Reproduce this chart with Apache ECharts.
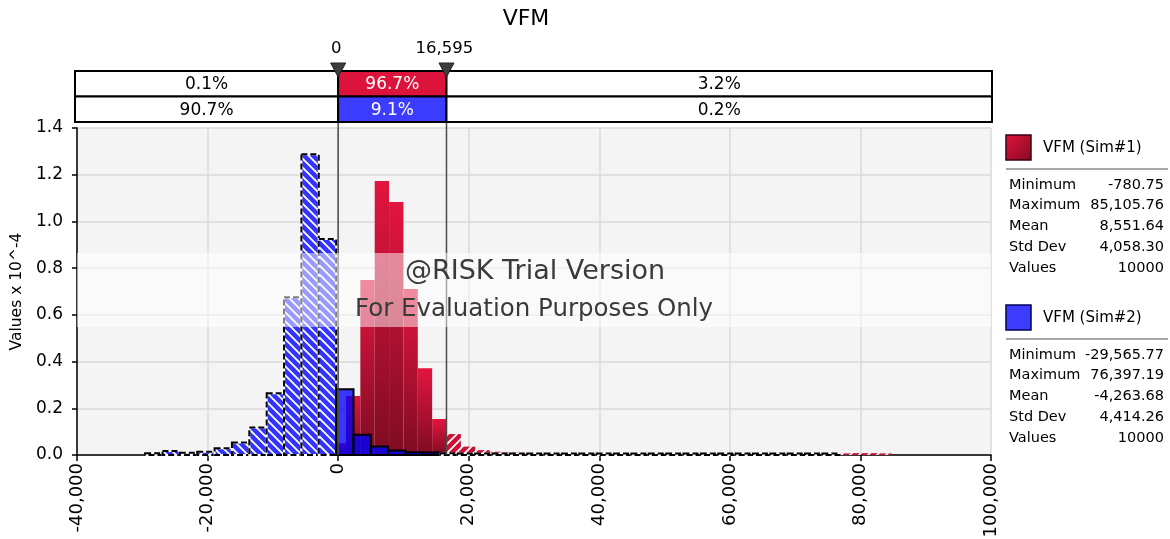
<!DOCTYPE html>
<html><head><meta charset="utf-8">
<script src="https://cdn.jsdelivr.net/npm/echarts@6/dist/echarts.min.js"></script>
<style>html,body{margin:0;padding:0;background:#fff}#c{width:1170px;height:539px}</style>
</head><body><div id="c"></div>
<script>
// ---------- data ----------
const chartTitle = 'VFM';
const delimiters = [0, 16595];
const delimiterLabels = ['0', '16,595'];
const pctSim1 = ['0.1%', '96.7%', '3.2%'];
const pctSim2 = ['90.7%', '9.1%', '0.2%'];
const xMin = -40000, xMax = 100000, xStep = 20000;
const yMin = 0, yMax = 1.4, yStep = 0.2;
const yAxisName = 'Values x 10^-4';

const redBinStart = -1000, redBinWidth = 2200;
const redDensity = [0.05, 0.253, 0.749, 1.173, 1.083, 0.711, 0.371, 0.154, 0.090, 0.036, 0.021, 0.014, 0.011,
  0.008, 0.008, 0.007, 0.007, 0.007, 0.007, 0.006, 0.006, 0.007, 0.006, 0.006, 0.006, 0.006, 0.006,
  0.006, 0.006, 0.006, 0.006, 0.006, 0.006, 0.006, 0.007, 0.007, 0.008, 0.008, 0.007];
const blueBinStart = -29566, blueBinWidth = 2660;
const blueDensity = [0.007, 0.017, 0.010, 0.014, 0.029, 0.053, 0.118, 0.264, 0.675, 1.288, 0.925,
  0.281, 0.087, 0.036, 0.019, 0.012, 0.011,
  0.007, 0.006, 0.006, 0.006, 0.006, 0.006, 0.006, 0.006, 0.006, 0.006, 0.006, 0.006, 0.006, 0.006,
  0.006, 0.006, 0.006, 0.006, 0.006, 0.006, 0.006, 0.006, 0.006];

const seriesNames = ['VFM (Sim#1)', 'VFM (Sim#2)'];
const statLabels = ['Minimum', 'Maximum', 'Mean', 'Std Dev', 'Values'];
const sim1Stats = ['-780.75', '85,105.76', '8,551.64', '4,058.30', '10000'];
const sim2Stats = ['-29,565.77', '76,397.19', '-4,263.68', '4,414.26', '10000'];

// ---------- helpers ----------
const FONT = 'DejaVu Sans';
function makePattern(base, dir) {
  const s = 9;
  const c = document.createElement('canvas');
  c.width = s; c.height = s;
  const g = c.getContext('2d');
  g.fillStyle = base; g.fillRect(0, 0, s, s);
  g.strokeStyle = '#ffffff'; g.lineWidth = 1.8;
  g.beginPath();
  if (dir === '\\') {
    g.moveTo(-2, -2); g.lineTo(s + 2, s + 2);
    g.moveTo(-2, s - 2); g.lineTo(2, s + 2);
    g.moveTo(s - 2, -2); g.lineTo(s + 2, 2);
  } else {
    g.moveTo(-2, s + 2); g.lineTo(s + 2, -2);
    g.moveTo(-2, 2); g.lineTo(2, -2);
    g.moveTo(s - 2, s + 2); g.lineTo(s + 2, s - 2);
  }
  g.stroke();
  return c;
}
const bluePat = makePattern('#3434ff', '\\');
const redPat = makePattern('#cc1234', '/');

function buildBins(start, width, vals) {
  return vals.map((v, i) => {
    const a = start + i * width, b = a + width, mid = (a + b) / 2;
    const hat = (mid < delimiters[0] || mid > delimiters[1]) ? 1 : 0;
    return [a, b, v, hat];
  });
}
const redData = buildBins(redBinStart, redBinWidth, redDensity);
const blueData = buildBins(blueBinStart, blueBinWidth, blueDensity);

function rectShape(api) {
  const a = api.coord([api.value(0), api.value(2)]);
  const b = api.coord([api.value(1), 0]);
  return { x: a[0], y: a[1], width: b[0] - a[0], height: b[1] - a[1] };
}
function renderRed(params, api) {
  const shape = rectShape(api);
  if (api.value(3)) {
    return { type: 'rect', shape, style: { fill: { image: redPat, repeat: 'repeat' } } };
  }
  return { type: 'rect', shape, style: { fill: { type: 'linear', x: 0, y: 0, x2: 0, y2: 1,
    colorStops: [{ offset: 0, color: '#e2153f' }, { offset: 1, color: '#7e0c22' }] } } };
}
function renderBlue(params, api) {
  const shape = rectShape(api);
  if (api.value(3)) {
    return { type: 'group', children: [
      { type: 'rect', shape, style: { fill: { image: bluePat, repeat: 'repeat' }, stroke: '#ffffff', lineWidth: 2 } },
      { type: 'rect', shape, style: { fill: 'none', stroke: '#000000', lineWidth: 2, lineDash: [6, 3] } }
    ] };
  }
  return { type: 'rect', shape, style: { fill: 'rgba(0,0,255,0.78)', stroke: '#000000', lineWidth: 2 } };
}

const chart = echarts.init(document.getElementById('c'), null, { renderer: 'canvas' });
const GRID = { left: 77, right: 179, top: 128, bottom: 84 };
chart.setOption({
  animation: false,
  backgroundColor: '#ffffff',
  title: { text: chartTitle, left: 527, textAlign: 'center', top: 5,
    textStyle: { fontFamily: FONT, fontSize: 22, fontWeight: 'normal', color: '#000' } },
  grid: Object.assign({ show: true, backgroundColor: '#f4f4f4', borderWidth: 0, containLabel: false, outerBoundsMode: 'none' }, GRID),
  xAxis: {
    type: 'value', min: xMin, max: xMax, interval: xStep,
    axisLine: { onZero: false, lineStyle: { color: '#000', width: 1.5 } },
    axisTick: { show: true, length: 6, lineStyle: { color: '#000', width: 1.5 } },
    axisLabel: { rotate: 90, fontFamily: FONT, fontSize: 18, color: '#000', margin: 8,
      formatter: v => v.toLocaleString('en-US') },
    splitLine: { show: true, lineStyle: { color: '#dadada', width: 1.5 } }
  },
  yAxis: {
    type: 'value', min: yMin, max: yMax, interval: yStep,
    name: yAxisName, nameLocation: 'middle', nameGap: 52, nameRotate: 90,
    nameTextStyle: { fontFamily: FONT, fontSize: 15.5, color: '#000' },
    axisLine: { show: true, onZero: false, lineStyle: { color: '#000', width: 1.5 } },
    axisTick: { show: true, length: 5, lineStyle: { color: '#000', width: 1.5 } },
    axisLabel: { fontFamily: FONT, fontSize: 17, color: '#000', margin: 14, formatter: v => v.toFixed(1) },
    splitLine: { show: true, lineStyle: { color: '#dadada', width: 1.5 } }
  },
  series: [
    { type: 'custom', name: seriesNames[0], renderItem: renderRed, data: redData, z: 2,
      encode: { x: [0, 1], y: 2 } },
    { type: 'custom', name: seriesNames[1], renderItem: renderBlue, data: blueData, z: 3,
      encode: { x: [0, 1], y: 2 } }
  ]
});

// ---------- overlays positioned through the axis scale ----------
const px = v => chart.convertToPixel({ xAxisIndex: 0 }, v);
const py = v => chart.convertToPixel({ yAxisIndex: 0 }, v);
const xL = px(xMin) - 2, xR = px(xMax) + 1;
const d0 = px(delimiters[0]), d1 = px(delimiters[1]);
const yBot = py(yMin);
const r1 = 71, r2 = 96.5, r3 = 122;
const g = [];
// title (drawn as graphic so it can sit exactly where the reference has it)
g.push({ type: 'text', style: { text: chartTitle, x: 526, y: 19, align: 'center', verticalAlign: 'middle',
  font: '22px "DejaVu Sans"', fill: '#000' } });
// watermark band
g.push({ type: 'rect', z: 100, shape: { x: px(xMin), y: 253, width: px(xMax) - px(xMin), height: 74 },
  style: { fill: 'rgba(255,255,255,0.5)' } });
g.push({ type: 'text', z: 101, style: { text: '@RISK Trial Version', x: 535, y: 272, align: 'center', verticalAlign: 'middle',
  font: '27px "DejaVu Sans"', fill: '#3a3a3a' } });
g.push({ type: 'text', z: 101, style: { text: 'For Evaluation Purposes Only', x: 534, y: 310, align: 'center', verticalAlign: 'middle',
  font: '24.5px "DejaVu Sans"', fill: '#3a3a3a' } });
// delimiter lines
[d0, d1].forEach(x => g.push({ type: 'line', z: 50, shape: { x1: x, y1: 76, x2: x, y2: yBot },
  style: { stroke: '#4a4a4a', lineWidth: 1.5 } }));
// band cells
const edges = [xL, d0, d1, xR];
function cellRow(y0, y1, texts, midFill) {
  for (let i = 0; i < 3; i++) {
    const mid = i === 1;
    g.push({ type: 'rect', z: 60, shape: { x: edges[i], y: y0, width: edges[i + 1] - edges[i], height: y1 - y0 },
      style: { fill: mid ? midFill : '#ffffff', stroke: '#000', lineWidth: 2 } });
    g.push({ type: 'text', z: 61, style: { text: texts[i], x: (edges[i] + edges[i + 1]) / 2, y: (y0 + y1) / 2 + 1,
      align: 'center', verticalAlign: 'middle', font: '17px "DejaVu Sans"', fill: mid ? '#ffffff' : '#000' } });
  }
}
cellRow(r1, r2, pctSim1, '#dc143c');
cellRow(r2, r3, pctSim2, '#3c3cff');
// triangles and labels
[d0, d1].forEach((x, i) => {
  g.push({ type: 'polygon', z: 70, shape: { points: [[x - 7.5, 63], [x + 7.5, 63], [x, 77]] },
    style: { fill: '#3c3c3c', stroke: '#222', lineWidth: 1 } });
  g.push({ type: 'text', z: 70, style: { text: delimiterLabels[i], x: x - 2, y: 49, align: 'center', verticalAlign: 'middle',
    font: '16.5px "DejaVu Sans"', fill: '#000' } });
});
// legend panel
function legendBlock(y0, name, fill, stroke, stats) {
  g.push({ type: 'rect', shape: { x: 1006, y: y0, width: 25, height: 25 }, style: { fill, stroke, lineWidth: 1.5 } });
  g.push({ type: 'text', style: { text: name, x: 1043, y: y0 + 13, verticalAlign: 'middle', font: '15px "DejaVu Sans"', fill: '#000' } });
  g.push({ type: 'line', shape: { x1: 1006, y1: y0 + 34, x2: 1168, y2: y0 + 34 }, style: { stroke: '#a8a8a8', lineWidth: 2 } });
  statLabels.forEach((lab, i) => {
    const y = y0 + 50 + i * 20.7;
    g.push({ type: 'text', style: { text: lab, x: 1009, y, verticalAlign: 'middle', font: '14.5px "DejaVu Sans"', fill: '#000' } });
    g.push({ type: 'text', style: { text: stats[i], x: 1164, y, align: 'right', verticalAlign: 'middle', font: '14.5px "DejaVu Sans"', fill: '#000' } });
  });
}
legendBlock(135, seriesNames[0], { type: 'linear', x: 0, y: 0, x2: 1, y2: 1,
  colorStops: [{ offset: 0, color: '#e0143c' }, { offset: 1, color: '#860a22' }] }, '#3a0010', sim1Stats);
legendBlock(305, seriesNames[1], '#3c3cff', '#00005a', sim2Stats);
chart.setOption({ title: { show: false }, graphic: g });
</script></body></html>
